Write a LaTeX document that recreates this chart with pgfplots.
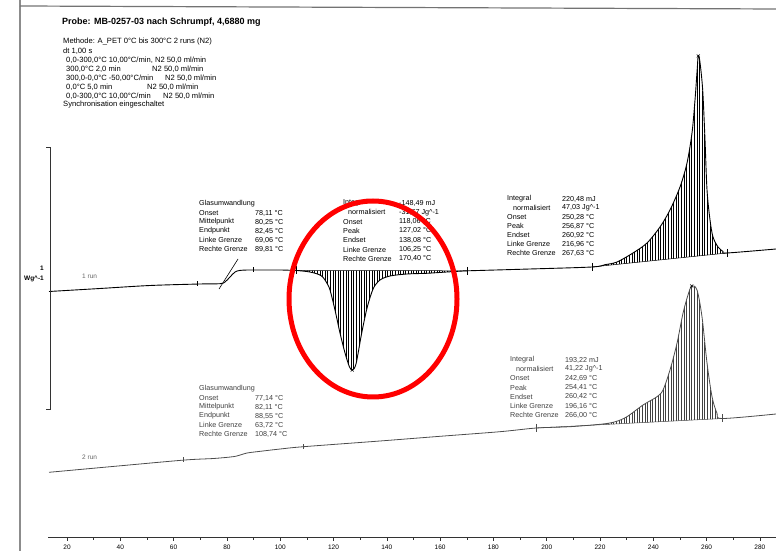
\documentclass[border=0pt]{standalone}
\usepackage{fontspec}
\setmainfont{Liberation Sans}
\usepackage{pgfplots}
\usepackage{pgfplotstable}
\pgfplotsset{compat=1.18}
\usepgfplotslibrary{fillbetween}
\usetikzlibrary{patterns.meta}

% run 1 (upper curve): T in degC, signal in arbitrary plot units
\pgfplotstableread{
T y
13.25 245.5
32.38 248.5
51.14 251.5
69.91 253
77.41 253.3
79.29 255
81.16 260
83.04 265
84.92 266.6
88.0 267
92.42 267
100.0 267
106.25 266.5
107.43 266.2
110.0 265.5
112.31 264.3
114.5 262.5
116.06 259.7
117.5 254
118.69 247
120.56 227
122.44 204
124.32 184
125.93 170.5
127.02 167
128.44 173
130.58 204
132.68 230
134.93 248.5
137.45 257
141.20 261
147.47 263
154.97 263.7
162.48 265
168.59 266
170.40 266.2
193.73 268
216.96 270
221.88 272.3
226.38 275
232.38 284
237.63 294
242.51 310
246.26 327
250.02 350
252.65 374
254.52 404
255.65 437
256.40 465
256.87 481
257.50 475
258.53 447
259.40 397
260.15 347
261.28 317
262.40 300
264.28 290
266.16 285.5
267.63 284
286.04 288
}\runone

% run 2 (lower curve)
\pgfplotstableread{
T y
13.25 64.7
40.0 71.2
64.28 77
75.0 78.5
82.29 80.3
85.0 82
87.54 84
91.29 85.3
100.0 88
108.74 90.3
137.45 96
160.0 100.7
182.47 105.3
196.16 109
208.74 110.3
221.13 113
226.0 115.5
230.13 120.3
236.14 132
241.39 140.3
243.64 147
246.26 167
248.89 193.7
251.14 223.7
253.02 242
254.41 251
256.40 247
258.27 220.3
260.15 174
262.03 140.3
263.91 123.7
266.0 118.5
286.04 123
}\runtwo

\newcommand\ts{\fontsize{7.2}{8}\selectfont}
\newcommand\ms{\fontsize{7.6}{8}\selectfont}
\newcommand\row[5]{%
  \node[anchor=west,inner sep=0pt] at (#1,#3) {#4};
  \node[anchor=west,inner sep=0pt] at (#2,#3) {#5};}

\begin{document}
\begin{tikzpicture}
\begin{axis}[
  at={(48pt,14pt)}, anchor=south west,
  scale only axis, width=728pt, height=537pt,
  xmin=12.87, xmax=286.04, ymin=0, ymax=537,
  axis x line*=bottom, axis y line=none,
  xtick={20,40,...,280}, minor x tick num=1,
  tick align=outside, major tick length=4pt, minor tick length=3pt,
  x axis line style={-, line width=0.8pt, black!80},
  every tick/.style={black!80, line width=0.5pt},
  xticklabel style={font=\fontsize{6.5}{7}\selectfont, /pgf/number format/assume math mode=true},
  clip=false,
]
\addplot[name path=r1, black, line width=0.9pt, smooth] table[x=T,y=y] {\runone};
\addplot[name path=r2, black!70, line width=0.8pt, smooth] table[x=T,y=y] {\runtwo};
\addplot[name path=b1c, black, line width=0.5pt] coordinates {(106.25,266.5) (170.40,266.2)};
\addplot[name path=b1m, black, line width=0.5pt] coordinates {(216.96,270) (267.63,284)};
\addplot[name path=b2m, black!70, line width=0.5pt] coordinates {(196.16,109) (266.0,118.5)};
\addplot[draw=none, pattern={Lines[angle=90,distance=2.6pt,line width=0.4pt]}] fill between[of=r1 and b1c, soft clip={domain=106.25:170.40}];
\addplot[draw=none, pattern={Lines[angle=90,distance=2.6pt,line width=0.4pt]}] fill between[of=r1 and b1m, soft clip={domain=216.96:267.63}];
\addplot[draw=none, pattern={Lines[angle=90,distance=2.6pt,line width=0.4pt]}, pattern color=black!75] fill between[of=r2 and b2m, soft clip={domain=196.16:266.0}];
% glass transition tangent (run 1)
\addplot[black, line width=0.6pt] coordinates {(77.04,248) (84.17,278)};
% limit ticks
\addplot[only marks, mark=|, mark size=2.5pt, black, mark options={line width=0.7pt}] coordinates {(69.06,253) (89.81,267)};
\addplot[only marks, mark=|, mark size=2.5pt, black!70, mark options={line width=0.7pt}] coordinates {(63.72,77) (108.74,90.3)};
\addplot[only marks, mark=|, mark size=4pt, black, mark options={line width=0.8pt}] coordinates {(106.25,266.5) (170.40,266.2) (216.96,270) (267.63,284)};
\addplot[only marks, mark=|, mark size=4pt, black!70, mark options={line width=0.8pt}] coordinates {(196.16,109) (266.0,118.5)};
% peak marks
\addplot[only marks, mark=x, mark size=2.2pt, black, mark options={line width=0.5pt}] coordinates {(127.02,167) (256.87,481) (254.41,251)};
\end{axis}

\begin{scope}[x=1pt, y=-1pt, shift={(0pt,551pt)}]
% scan frame
\draw[black!45, line width=1.5pt] (20,0) -- (20,551);
\draw[black!55, line width=1.2pt] (20,6) -- (776,9);
% title and method
\node[anchor=west, inner sep=0pt, font=\fontsize{9}{10}\selectfont\bfseries] at (62,22) {Probe: MB-0257-03 nach Schrumpf, 4,6880 mg};
\begin{scope}[font=\ms]
\node[anchor=west,inner sep=0pt] at (63,42) {Methode: A\_PET 0°C bis 300°C 2 runs (N2)};
\node[anchor=west,inner sep=0pt] at (63,51) {dt 1,00 s};
\node[anchor=west,inner sep=0pt] at (66,60) {0,0-300,0°C 10,00°C/min, N2 50,0 ml/min};
\row{66}{152}{69}{300,0°C 2,0 min}{N2 50,0 ml/min}
\row{66}{165}{78}{300,0-0,0°C -50,00°C/min}{N2 50,0 ml/min}
\row{66}{147}{87}{0,0°C 5,0 min}{N2 50,0 ml/min}
\row{66}{163}{96}{0,0-300,0°C 10,00°C/min}{N2 50,0 ml/min}
\node[anchor=west,inner sep=0pt] at (63,105) {Synchronisation eingeschaltet};
\end{scope}
\begin{scope}[font=\ts]
% run 1 glass transition
\node[anchor=west,inner sep=0pt] at (199,204) {Glasumwandlung};
\row{199}{255}{213}{Onset}{78,11 °C}
\row{199}{255}{222}{Mittelpunkt}{80,25 °C}
\row{199}{255}{231}{Endpunkt}{82,45 °C}
\row{199}{255}{240}{Linke Grenze}{69,06 °C}
\row{199}{255}{249}{Rechte Grenze}{89,81 °C}
% run 1 crystallisation
\row{343}{399}{203}{Integral}{-148,49 mJ}
\row{348}{399}{212.3}{normalisiert}{-31,67 Jg\textasciicircum-1}
\row{343}{399}{221.6}{Onset}{118,06 °C}
\row{343}{399}{230.9}{Peak}{127,02 °C}
\row{343}{399}{240.2}{Endset}{138,08 °C}
\row{343}{399}{249.5}{Linke Grenze}{106,25 °C}
\row{343}{399}{258.8}{Rechte Grenze}{170,40 °C}
% run 1 melting
\row{507}{562}{199}{Integral}{220,48 mJ}
\row{513}{562}{208}{normalisiert}{47,03 Jg\textasciicircum-1}
\row{507}{562}{217}{Onset}{250,28 °C}
\row{507}{562}{226}{Peak}{256,87 °C}
\row{507}{562}{235}{Endset}{260,92 °C}
\row{507}{562}{244}{Linke Grenze}{216,96 °C}
\row{507}{562}{253}{Rechte Grenze}{267,63 °C}
\end{scope}
\begin{scope}[font=\ts, black!75]
% run 2 melting
\row{510}{565}{360}{Integral}{193,22 mJ}
\row{516}{565}{369.2}{normalisiert}{41,22 Jg\textasciicircum-1}
\row{510}{565}{378.4}{Onset}{242,69 °C}
\row{510}{565}{387.6}{Peak}{254,41 °C}
\row{510}{565}{396.8}{Endset}{260,42 °C}
\row{510}{565}{406}{Linke Grenze}{196,16 °C}
\row{510}{565}{415.2}{Rechte Grenze}{266,00 °C}
% run 2 glass transition
\node[anchor=west,inner sep=0pt] at (199,389) {Glasumwandlung};
\row{199}{255}{398}{Onset}{77,14 °C}
\row{199}{255}{407}{Mittelpunkt}{82,11 °C}
\row{199}{255}{416}{Endpunkt}{88,55 °C}
\row{199}{255}{425}{Linke Grenze}{63,72 °C}
\row{199}{255}{434}{Rechte Grenze}{108,74 °C}
\end{scope}
% run labels
\node[anchor=west,inner sep=0pt, font=\fontsize{6.5}{7}\selectfont, black!60] at (82,276) {1 run};
\node[anchor=west,inner sep=0pt, font=\fontsize{6.5}{7}\selectfont, black!60] at (82,457) {2 run};
% scale bar
\draw[black!80, line width=0.7pt] (46,147) -- (50,147) -- (50,409) -- (46,409);
\node[anchor=east,inner sep=0pt, font=\fontsize{6.5}{7}\selectfont\bfseries] at (44,268) {1};
\node[anchor=east,inner sep=0pt, font=\fontsize{6.5}{7}\selectfont\bfseries] at (44,279) {Wg\textasciicircum-1};
% red marking ellipse
\draw[red, line width=5pt] (373,299) ellipse [x radius=84, y radius=98];
\end{scope}
\pgfresetboundingbox
\path[use as bounding box] (0,0) rectangle (776pt,551pt);
\end{tikzpicture}
\end{document}
